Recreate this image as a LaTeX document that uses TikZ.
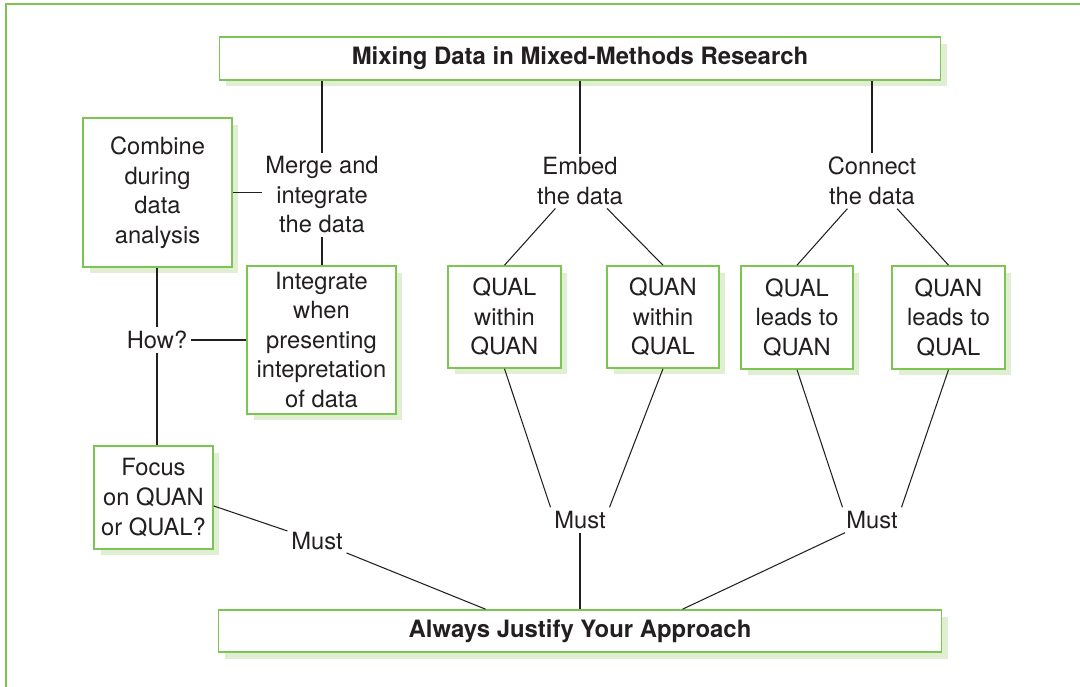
\documentclass[tikz,border=0pt]{standalone}
\usepackage{fontspec}
\setmainfont{TeX Gyre Heros}
\usetikzlibrary{shadows}
\definecolor{boxgreen}{HTML}{7CC552}
\definecolor{shadegreen}{HTML}{E0EFD4}
\definecolor{ink}{HTML}{231F20}

\begin{document}
\begin{tikzpicture}[x=0.02cm,y=0.02cm,
		box/.style={draw=boxgreen, line width=0.9pt, fill=white, align=center, inner sep=0pt,
			general shadow={fill=shadegreen, shadow xshift=0.13cm, shadow yshift=-0.13cm}},
		lbl/.style={align=center, inner sep=2pt},
		every node/.style={text=ink, font=\fontsize{13.5}{16.8}\selectfont},
		link/.style={draw=ink, line width=0.6pt}]
		\useasboundingbox (0,0) rectangle (1080,-687);
		\draw[boxgreen, line width=1pt] (6,-687)--(6,-4)--(1080,-4);
		
		\node[box, minimum width=14.42cm, minimum height=0.86cm, font=\bfseries\fontsize{13.6}{16.8}\selectfont] (title) at (580,-58.5) {Mixing Data in Mixed-Methods Research};
		\node[box, minimum width=14.46cm, minimum height=0.84cm, font=\bfseries\fontsize{13.6}{16.8}\selectfont] (justify) at (580,-631) {Always Justify Your Approach};
		
		\node[box, minimum width=2.98cm, minimum height=2.98cm] (combine) at (157.5,-192.5) {Combine\\during\\data\\analysis};
		\node[box, minimum width=2.98cm, minimum height=2.96cm] (integ) at (321.5,-340) {Integrate\\when\\presenting\\intepretation\\of data};
		\node[box, minimum width=2.38cm, minimum height=2.06cm] (focus) at (153.5,-497.5) {Focus\\on QUAN\\or QUAL?};
		\node[box, minimum width=2.26cm, minimum height=2.04cm] (qwq) at (504.5,-317) {QUAL\\within\\QUAN};
		\node[box, minimum width=2.24cm, minimum height=2.04cm] (nwl) at (663,-317) {QUAN\\within\\QUAL};
		\node[box, minimum width=2.24cm, minimum height=2.06cm] (qlq) at (797,-317.5) {QUAL\\leads to\\QUAN};
		\node[box, minimum width=2.26cm, minimum height=2.06cm] (nlq) at (948.5,-317.5) {QUAN\\leads to\\QUAL};
		
		\node[lbl] (merge) at (322,-195) {Merge and\\integrate\\the data};
		\node[lbl] (embed) at (580,-181) {Embed\\the data};
		\node[lbl] (connect) at (872,-181) {Connect\\the data};
		\node[lbl] (how) at (157,-340) {How?};
		\node[lbl] (mustL) at (317,-541) {Must};
		\node[lbl] (mustM) at (580,-520) {Must};
		\node[lbl] (mustR) at (872,-520) {Must};
		
		\draw[link] (title.south -| merge) -- (merge);
		\draw[link] (title.south -| embed) -- (embed);
		\draw[link] (title.south -| connect) -- (connect);
		\draw[link] (combine.east) -- (combine.east -| merge.west);
		\draw[link] (merge) -- (merge |- integ.north);
		\draw[link] (combine.south -| how) -- (how);
		\draw[link] (how) -- (integ.west |- how);
		\draw[link] (how) -- (how |- focus.north);
		\draw[link] (embed) -- (qwq.north);
		\draw[link] (embed) -- (nwl.north);
		\draw[link] (connect) -- (qlq.north);
		\draw[link] (connect) -- (nlq.north);
		\draw[link] (qwq.south) -- (mustM.north west);
		\draw[link] (nwl.south) -- (mustM.north east);
		\draw[link] (qlq.south) -- (mustR.north west);
		\draw[link] (nlq.south) -- (mustR.north east);
		\draw[link] (focus.-8) -- (mustL);
		\draw[link] (mustL) -- (justify.167.6);
		\draw[link] (mustM) -- (justify.north);
		\draw[link] (mustR) -- (justify.12);
	\end{tikzpicture}
\end{document}
